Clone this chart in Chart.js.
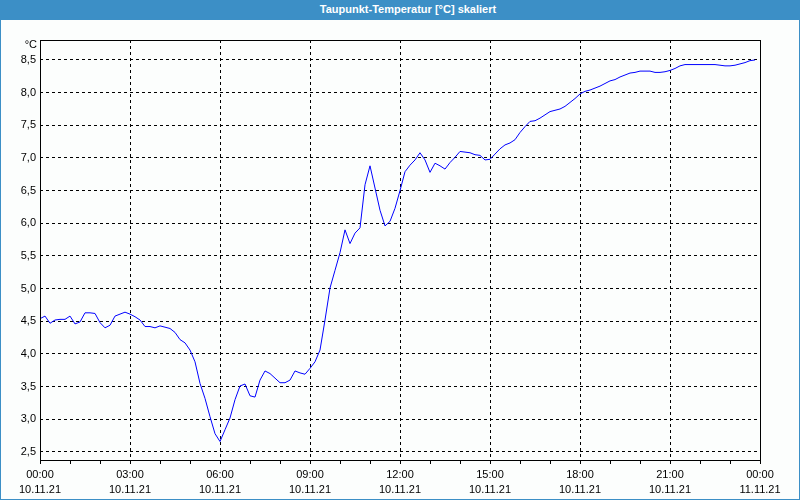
<!DOCTYPE html>
<html>
<head>
<meta charset="utf-8">
<script src="https://cdn.jsdelivr.net/npm/chart.js@4"></script>
<style>
    body { margin: 0; background: #fcfefd; }
    #wrap { position: relative; width: 800px; height: 500px; }
    #c { position: absolute; left: 0; top: 0; }
    #frame {
        position: absolute; left: 0; top: 0; width: 800px; height: 500px;
        box-sizing: border-box; border: 1px solid #3c8fc6; pointer-events: none;
    }
    #titlebar {
        position: absolute; left: 0; top: 0; width: 800px; height: 20px;
        background: #3c8fc6; color: #fff; text-align: center;
        font: bold 11px "Liberation Sans", sans-serif; line-height: 19px;
        box-sizing: border-box; padding-left: 16px;
    }
</style>
</head>
<body>
<div id="wrap">
    <canvas id="c" width="800" height="500"></canvas>
    <div id="frame"></div>
    <div id="titlebar">Taupunkt-Temperatur [°C] skaliert</div>
</div>
<script>
// dew point, 10 minute samples starting 10.11.21 00:00
const stepMinutes = 10;
const values = [
    4.54, 4.58, 4.47, 4.52, 4.53, 4.53, 4.58, 4.46, 4.49, 4.63,
    4.63, 4.62, 4.48, 4.40, 4.44, 4.58, 4.61, 4.64, 4.61, 4.57,
    4.52, 4.42, 4.42, 4.40, 4.43, 4.41, 4.39, 4.33, 4.22, 4.17,
    4.06, 3.88, 3.55, 3.32, 3.04, 2.78, 2.66, 2.84, 3.02, 3.30,
    3.51, 3.54, 3.36, 3.34, 3.60, 3.74, 3.70, 3.63, 3.56, 3.56,
    3.60, 3.74, 3.71, 3.69, 3.78, 3.88, 4.06, 4.52, 5.01, 5.28,
    5.55, 5.90, 5.69, 5.85, 5.93, 6.59, 6.88, 6.54, 6.20, 5.96,
    6.03, 6.23, 6.50, 6.79, 6.89, 6.97, 7.08, 6.97, 6.78, 6.92,
    6.88, 6.83, 6.93, 7.01, 7.10, 7.09, 7.08, 7.05, 7.04, 6.97,
    6.98, 7.06, 7.14, 7.20, 7.23, 7.28, 7.39, 7.48, 7.56, 7.57,
    7.61, 7.66, 7.71, 7.73, 7.75, 7.79, 7.85, 7.91, 7.98, 8.02,
    8.04, 8.07, 8.10, 8.14, 8.18, 8.20, 8.24, 8.27, 8.30, 8.31,
    8.33, 8.33, 8.33, 8.31, 8.31, 8.32, 8.34, 8.37, 8.41, 8.43,
    8.43, 8.43, 8.43, 8.43, 8.43, 8.43, 8.42, 8.41, 8.41, 8.42,
    8.44, 8.46, 8.49, 8.50
];
const hourLabels = ['00:00', '03:00', '06:00', '09:00', '12:00', '15:00', '18:00', '21:00', '00:00'];
const dateLabels = ['10.11.21', '10.11.21', '10.11.21', '10.11.21', '10.11.21', '10.11.21', '10.11.21', '10.11.21', '11.11.21'];
const yTicks = [2.5, 3.0, 3.5, 4.0, 4.5, 5.0, 5.5, 6.0, 6.5, 7.0, 7.5, 8.0, 8.5];

const points = values.map((v, i) => ({ x: i * stepMinutes, y: v }));
const labelFont = { family: 'Liberation Sans', size: 11 };

const boxPlugin = {
    id: 'box',
    afterDraw(chart) {
        const a = chart.chartArea;
        const ctx = chart.ctx;
        ctx.save();
        ctx.strokeStyle = '#000';
        ctx.lineWidth = 1;
        ctx.strokeRect(a.left + 0.5, a.top + 0.5, a.right - a.left, a.bottom - a.top);
        ctx.fillStyle = '#000';
        ctx.font = '11px "Liberation Sans"';
        ctx.textAlign = 'right';
        ctx.textBaseline = 'middle';
        ctx.fillText('°C', a.left - 3, a.top + 5);
        ctx.restore();
    }
};

new Chart(document.getElementById('c'), {
    type: 'line',
    data: {
        datasets: [{
            data: points,
            borderColor: '#0000ff',
            borderWidth: 1,
            pointRadius: 0,
            tension: 0,
            fill: false
        }]
    },
    options: {
        responsive: false,
        animation: false,
        layout: { padding: { top: 40, right: 40, left: 0, bottom: 0 } },
        plugins: { legend: { display: false }, tooltip: { enabled: false } },
        scales: {
            x: {
                type: 'linear',
                min: 0,
                max: 1440,
                afterFit: s => { s.height = 40; },
                afterBuildTicks: s => {
                    const t = [];
                    for (let m = 0; m <= 1440; m += 60) t.push({ value: m });
                    s.ticks = t;
                },
                grid: {
                    color: c => (c.tick && c.tick.value % 180 === 0) ? '#000' : 'rgba(0,0,0,0)',
                    lineWidth: 1,
                    tickColor: '#000',
                    tickWidth: 1,
                    tickLength: 4,
                    drawTicks: true
                },
                border: { display: false, dash: [3, 3] },
                ticks: {
                    autoSkip: false,
                    maxRotation: 0,
                    padding: 3,
                    color: '#000',
                    font: { family: 'Liberation Sans', size: 11, lineHeight: 1.4 },
                    callback: v => {
                        if (v % 180 !== 0) return '';
                        const k = v / 180;
                        return [hourLabels[k], dateLabels[k]];
                    }
                }
            },
            y: {
                min: 2.377,
                max: 8.806,
                afterFit: s => { s.width = 40; },
                afterBuildTicks: s => { s.ticks = yTicks.map(v => ({ value: v })); },
                grid: { color: '#000', lineWidth: 1, drawTicks: false },
                border: { display: false, dash: [3, 3] },
                ticks: {
                    padding: 4,
                    color: '#000',
                    font: labelFont,
                    callback: v => v.toFixed(1).replace('.', ',')
                }
            }
        }
    },
    plugins: [boxPlugin]
});
</script>
</body>
</html>
